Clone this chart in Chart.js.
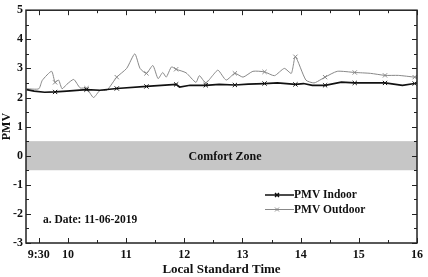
<!DOCTYPE html>
<html>
<head>
<meta charset="utf-8">
<script src="https://cdn.jsdelivr.net/npm/chart.js@4"></script>
<style>
  html, body { margin: 0; padding: 0; background: #fff; }
  #wrap { width: 428px; height: 277px; }
</style>
</head>
<body>
<div id="wrap"><canvas id="pmvChart"></canvas></div>
<script>
// decimal hours and PMV values
const outdoorHours = [9.29, 9.50, 9.56, 9.72, 9.78, 9.84, 9.90, 9.98, 10.10, 10.21, 10.32, 10.44, 10.55, 10.67, 10.84,
    11.01, 11.15, 11.24, 11.35, 11.46, 11.55, 11.63, 11.69, 11.78, 11.86, 12.03, 12.20, 12.26, 12.37, 12.49,
    12.58, 12.72, 12.87, 13.01, 13.18, 13.38, 13.55, 13.72, 13.84, 13.91, 14.09, 14.23, 14.35, 14.42, 14.63,
    14.93, 15.20, 15.45, 15.68, 15.96, 16.00];
const outdoorPMV = [2.30, 2.30, 2.59, 2.90, 2.52, 2.60, 2.30, 2.45, 2.62, 2.33, 2.32, 2.00, 2.24, 2.25, 2.70,
    3.00, 3.50, 3.00, 2.83, 3.10, 2.65, 2.86, 2.70, 3.05, 2.97, 2.85, 2.52, 2.75, 2.50, 2.76,
    2.94, 2.60, 2.83, 2.70, 2.90, 2.88, 2.75, 3.00, 2.83, 3.40, 2.60, 2.50, 2.62, 2.70, 2.90,
    2.86, 2.83, 2.76, 2.76, 2.70, 2.70];

const indoorHours = [9.29, 9.42, 9.60, 9.78, 9.98, 10.32, 10.55, 10.84, 11.35, 11.86, 11.92, 12.10, 12.37, 12.60,
    12.87, 13.10, 13.38, 13.60, 13.91, 14.05, 14.20, 14.42, 14.70, 14.93, 15.20, 15.45, 15.75, 15.96, 16.00];
const indoorPMV = [2.27, 2.22, 2.18, 2.19, 2.22, 2.27, 2.25, 2.31, 2.38, 2.45, 2.36, 2.42, 2.42, 2.45,
    2.43, 2.46, 2.48, 2.50, 2.45, 2.48, 2.42, 2.42, 2.53, 2.50, 2.50, 2.50, 2.42, 2.48, 2.50];

// hours where the x markers sit
const markerHours = [9.78, 10.32, 10.84, 11.35, 11.86, 12.37, 12.87, 13.38, 13.91, 14.42, 14.93, 15.45, 15.96];

const xTickValues = [9.5, 10, 11, 12, 13, 14, 15, 16];
const xTickLabels = ['9:30', '10', '11', '12', '13', '14', '15', '16'];
const xMinorTicks = [10.5, 11.5, 12.5, 13.5, 14.5, 15.5];
const yTickValues = [-3, -2, -1, 0, 1, 2, 3, 4, 5];
const yMinorTicks = [-2.5, -1.5, -0.5, 0.5, 1.5, 2.5, 3.5, 4.5];

const comfortZone = [-0.5, 0.5];
const dateText = 'a. Date: 11-06-2019';

const serif = "'Liberation Serif', 'Times New Roman', serif";

function toPoints(hours, vals) {
    return hours.map((h, i) => ({ x: h, y: vals[i] }));
}

function markerRadius(ctx) {
    const p = ctx.raw;
    return p && markerHours.includes(p.x) ? 3 : 0;
}

const framePlugin = {
    id: 'frame',
    beforeDatasetsDraw(chart) {
        const { ctx, chartArea: a, scales } = chart;
        const yTop = scales.y.getPixelForValue(comfortZone[1]);
        const yBot = scales.y.getPixelForValue(comfortZone[0]);
        ctx.save();
        ctx.fillStyle = '#c6c6c6';
        ctx.fillRect(a.left, yTop, a.right - a.left, yBot - yTop);
        ctx.fillStyle = '#111';
        ctx.font = 'bold 12px ' + serif;
        ctx.textAlign = 'center';
        ctx.textBaseline = 'middle';
        ctx.fillText('Comfort Zone', 225, (yTop + yBot) / 2 + 1);
        ctx.restore();
    },
    afterDatasetsDraw(chart) {
        const { ctx, chartArea: a, scales } = chart;
        ctx.save();
        ctx.strokeStyle = '#222';
        ctx.lineWidth = 1;

        // inward tick marks on all four sides
        const tick = (v, len, horiz) => {
            if (horiz) {
                const px = Math.round(scales.x.getPixelForValue(v)) + 0.5;
                ctx.beginPath();
                ctx.moveTo(px, a.bottom); ctx.lineTo(px, a.bottom - len);
                ctx.moveTo(px, a.top); ctx.lineTo(px, a.top + len);
                ctx.stroke();
            } else {
                const py = Math.round(scales.y.getPixelForValue(v)) + 0.5;
                ctx.beginPath();
                ctx.moveTo(a.left, py); ctx.lineTo(a.left + len, py);
                ctx.moveTo(a.right, py); ctx.lineTo(a.right - len, py);
                ctx.stroke();
            }
        };
        xTickValues.forEach(v => tick(v, 5, true));
        xMinorTicks.forEach(v => tick(v, 3, true));
        yTickValues.forEach(v => tick(v, 5, false));
        yMinorTicks.forEach(v => tick(v, 3, false));

        ctx.lineWidth = 1.5;
        ctx.strokeRect(a.left, a.top, a.right - a.left, a.bottom - a.top);

        // date note
        ctx.fillStyle = '#111';
        ctx.font = 'bold 11.5px ' + serif;
        ctx.textBaseline = 'middle';
        ctx.textAlign = 'left';
        ctx.fillText(dateText, 43, 220);

        // legend
        chart.data.datasets.forEach((ds, i) => {
            const y = 195 + i * 14.5;
            ctx.strokeStyle = ds.borderColor;
            ctx.lineWidth = i === 0 ? 1.4 : 1;
            ctx.beginPath();
            ctx.moveTo(265, y); ctx.lineTo(294, y);
            ctx.moveTo(275, y - 2); ctx.lineTo(279, y + 2);
            ctx.moveTo(275, y + 2); ctx.lineTo(279, y - 2);
            ctx.stroke();
            ctx.fillStyle = '#111';
            ctx.font = 'bold 11.5px ' + serif;
            ctx.fillText(ds.label, 294, y + 0.5);
        });
        ctx.restore();
    }
};

new Chart(document.getElementById('pmvChart'), {
    type: 'line',
    data: {
        datasets: [{
            label: 'PMV Indoor',
            data: toPoints(indoorHours, indoorPMV),
            borderColor: '#111',
            backgroundColor: '#111',
            borderWidth: 1.7,
            pointStyle: 'crossRot',
            pointRadius: markerRadius,
            pointBorderWidth: 1,
            tension: 0
        }, {
            label: 'PMV Outdoor',
            data: toPoints(outdoorHours, outdoorPMV),
            borderColor: '#888888',
            backgroundColor: '#888888',
            borderWidth: 1,
            pointStyle: 'crossRot',
            pointRadius: markerRadius,
            pointBorderWidth: 1,
            tension: 0.2
        }]
    },
    options: {
        responsive: true,
        maintainAspectRatio: false,
        animation: false,
        layout: { padding: { top: 10, right: 8, left: 0, bottom: 0 } },
        plugins: {
            legend: { display: false },
            tooltip: { enabled: false }
        },
        scales: {
            x: {
                type: 'linear',
                min: 9.28,
                max: 16,
                grid: { display: false, drawTicks: false },
                border: { display: false },
                afterBuildTicks: scale => { scale.ticks = xTickValues.map(v => ({ value: v })); },
                afterFit: scale => { scale.height = 34; },
                ticks: {
                    autoSkip: false,
                    maxRotation: 0,
                    padding: 5,
                    color: '#111',
                    font: { family: serif, size: 12, weight: 'bold' },
                    callback: v => xTickLabels[xTickValues.indexOf(v)]
                },
                title: {
                    display: true,
                    text: 'Local Standard Time',
                    color: '#111',
                    padding: { top: 0, bottom: 0 },
                    font: { family: serif, size: 13, weight: 'bold' }
                }
            },
            y: {
                min: -3,
                max: 5,
                grid: { display: false, drawTicks: false },
                border: { display: false },
                afterBuildTicks: scale => { scale.ticks = yTickValues.map(v => ({ value: v })); },
                afterFit: scale => { scale.width = 26; },
                ticks: {
                    padding: 3,
                    color: '#111',
                    font: { family: serif, size: 12, weight: 'bold' }
                },
                title: {
                    display: true,
                    text: 'PMV',
                    color: '#111',
                    padding: { top: 0, bottom: 0 },
                    font: { family: serif, size: 12, weight: 'bold' }
                }
            }
        }
    },
    plugins: [framePlugin]
});
</script>
</body>
</html>
